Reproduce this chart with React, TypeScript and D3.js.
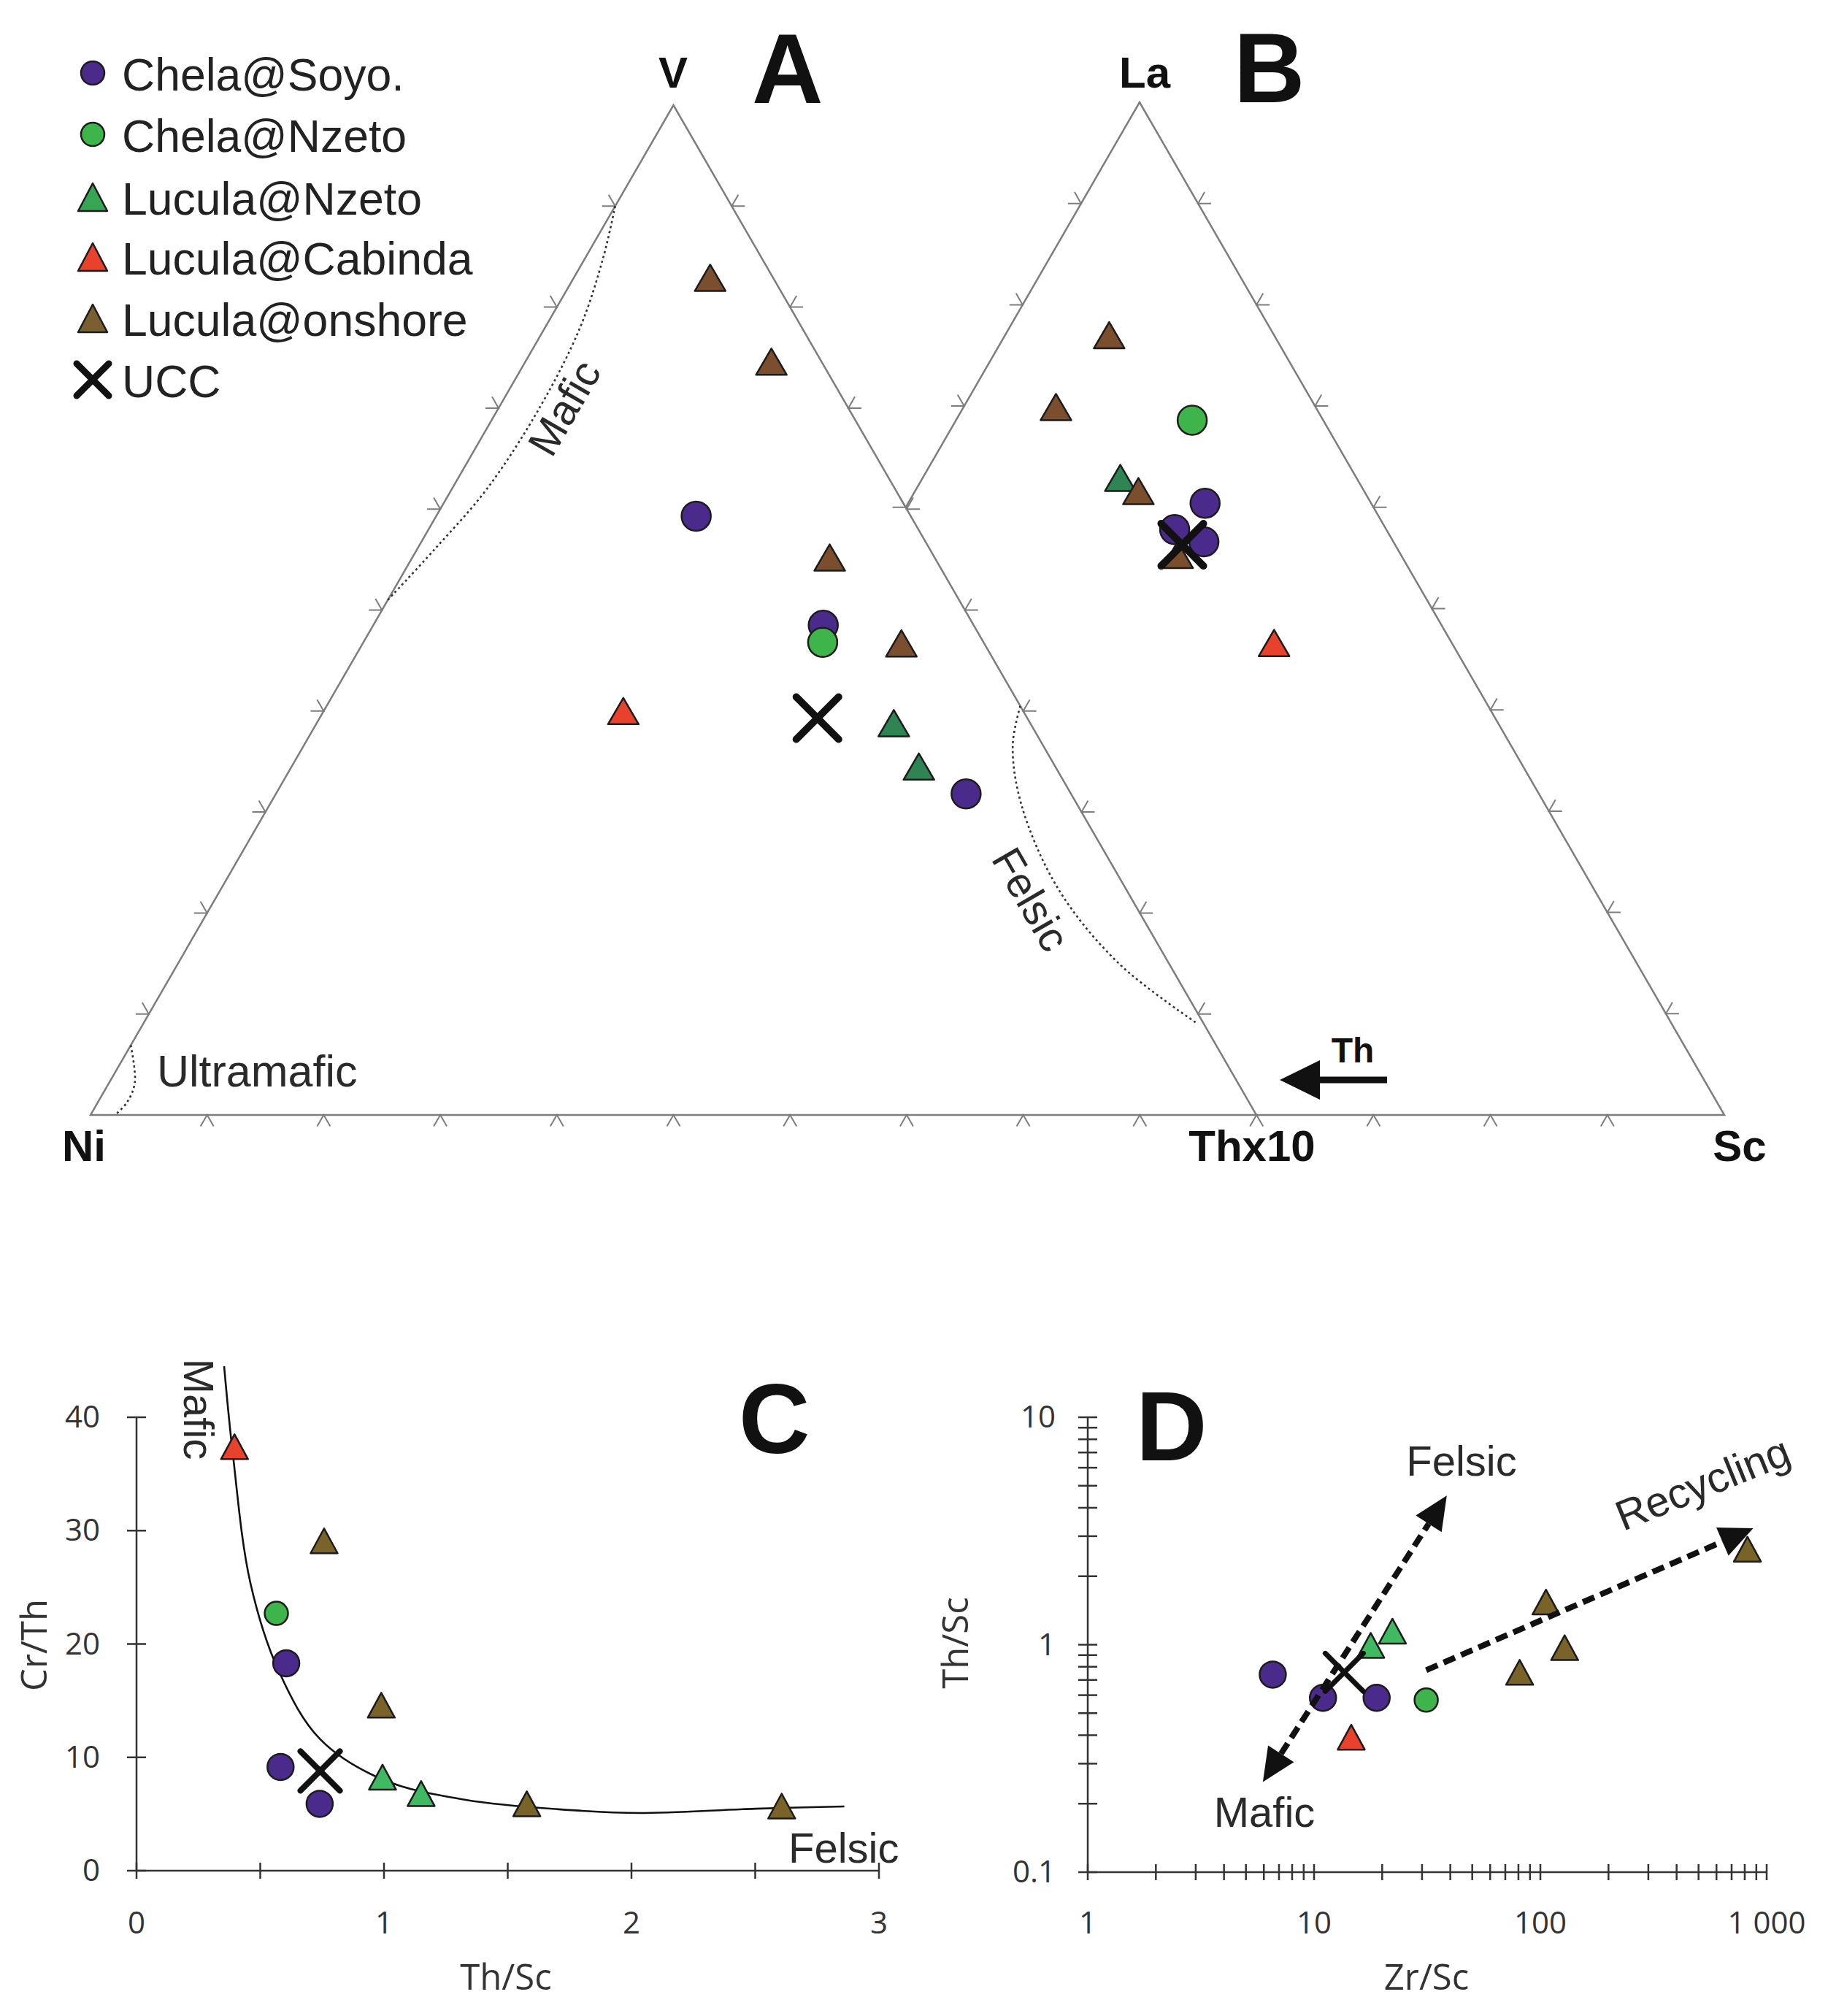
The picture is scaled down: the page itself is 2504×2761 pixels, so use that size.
import React from 'react';
import * as d3 from 'd3';

const W = 2504;
const H = 2761;

// ---------- Legend ----------
const legendNames = ['Chela@Soyo.', 'Chela@Nzeto', 'Lucula@Nzeto', 'Lucula@Cabinda', 'Lucula@onshore', 'UCC'];

// ---------- Panel A : V – Ni – Thx10 (%, [V, Ni, Thx10]) ----------
const aChelaSoyo = [[59.3, 18.4, 22.3], [48.5, 12.9, 38.6], [31.8, 9.0, 59.2]];
const aChelaNzeto = [[46.8, 13.8, 39.4]];
const aLuculaNzeto = [[38.8, 11.7, 49.5], [34.5, 11.7, 53.8]];
const aLuculaCabinda = [[40.0, 34.3, 25.7]];
const aLuculaOnshore = [[82.9, 5.4, 11.7], [74.6, 4.3, 21.1], [55.2, 9.0, 35.8], [46.7, 7.1, 46.2]];
const aUCC = [[39.3, 18.0, 42.7]];
const aMaficField = [[90, 10, 0], [85, 13.5, 1.5], [78, 19, 3], [70, 26.5, 3.5], [62, 35, 3], [56, 42.5, 1.5], [51, 49, 0]];
const aFelsicField = [[40.5, 0, 59.5], [36.6, 2.6, 60.8], [30.7, 4.8, 64.5], [22.4, 5.8, 71.8], [15.0, 4.3, 80.7], [9.0, 0.5, 90.5]];
const aUltramaficField = [[6.9, 93.1, 0], [3.2, 94.6, 2.2], [1.2, 96.3, 2.5], [0, 97.9, 2.1]];

// ---------- Panel B : La – Th – Sc (%, [La, Th, Sc]) ----------
const bChelaSoyo = [[60.4, 14.2, 25.4], [57.8, 18.1, 24.1], [56.6, 16.2, 27.2]];
const bChelaNzeto = [[68.6, 11.2, 20.2]];
const bLuculaNzeto = [[62.9, 20.2, 16.9]];
const bLuculaCabinda = [[46.6, 15.2, 38.2]];
const bLuculaOnshore = [[77.0, 14.1, 8.9], [69.9, 22.2, 7.9], [61.6, 19.3, 19.1], [55.3, 19.1, 25.6]];
const bUCC = [[56.3, 18.2, 25.5]];

// ---------- Panel C : Th/Sc vs Cr/Th ----------
const cChelaSoyo = [[0.605, 18.3], [0.582, 9.15], [0.74, 5.9]];
const cChelaNzeto = [[0.565, 22.7]];
const cLuculaNzeto = [[0.994, 8.25], [1.15, 6.8]];
const cLuculaCabinda = [[0.396, 37.4]];
const cLuculaOnshore = [[0.758, 29.1], [0.989, 14.6], [1.577, 5.9], [2.607, 5.7]];
const cUCC = [[0.742, 8.8]];
const cMixingCurve = [[0.354, 44.5], [0.389, 36.8], [0.46, 25.4], [0.577, 17.5], [0.742, 11.6], [0.994, 8.05], [1.33, 6.25], [1.8, 5.28], [2.035, 5.09], [2.5, 5.47], [2.86, 5.67]];
const cXTicks = [0, 1, 2, 3];
const cXMinor = [0.5, 1.5, 2.5];
const cYTicks = [0, 10, 20, 30, 40];

// ---------- Panel D : Zr/Sc vs Th/Sc ----------
const dChelaSoyo = [[6.57, 0.739], [10.95, 0.584], [18.9, 0.584]];
const dChelaNzeto = [[31.3, 0.571]];
const dLuculaNzeto = [[17.8, 0.993], [22.2, 1.147]];
const dLuculaCabinda = [[14.6, 0.392]];
const dLuculaOnshore = [[81, 0.756], [105.9, 1.54], [128, 0.97], [822, 2.63]];
const dUCC = [[13.6, 0.756]];
const dFelsicMaficArrow = [[5.94, 0.249], [38.6, 4.53]];
const dRecyclingArrow = [[31.3, 0.773], [872, 3.25]];
const dXTickLabels = [[1, '1'], [10, '10'], [100, '100'], [1000, '1 000']];
const dYTickLabels = [[0.1, '0.1'], [1, '1'], [10, '10']];

// ---------- styles ----------
const PURPLE = '#4a2b8b';
const GREEN_C = '#3db54b';
const GREEN_T_AB = '#2e8553';
const GREEN_T_CD = '#3fb962';
const GREEN_T_LEG = '#36a655';
const RED = '#e8412c';
const BROWN_AB = '#7b4f2e';
const BROWN_CD = '#7a6328';
const BROWN_LEG = '#7a6030';
const EDGE = '#7d7d7d';
const SANS = '"Liberation Sans", Arial, sans-serif';
const AXF = '"Open Sans", "Noto Sans", sans-serif';

type Pt = [number, number];

function triPath(x: number, y: number, w: number, h: number) {
  return `M${x},${y - h / 2}L${x + w / 2},${y + h / 2}L${x - w / 2},${y + h / 2}Z`;
}

function Marker({ kind, x, y, fill, r = 20, w = 42, h = 36, sw = 10, xs = 30 }: any) {
  if (kind === 'circle') return <circle cx={x} cy={y} r={r} fill={fill} stroke="#1c1c1c" strokeWidth={2.5} />;
  if (kind === 'tri') return <path d={triPath(x, y, w, h)} fill={fill} stroke="#1c1c1c" strokeWidth={2.5} strokeLinejoin="round" />;
  return (
    <g stroke="#111" strokeWidth={sw} strokeLinecap="round">
      <line x1={x - xs} y1={y - xs} x2={x + xs} y2={y + xs} />
      <line x1={x - xs} y1={y + xs} x2={x + xs} y2={y - xs} />
    </g>
  );
}

function makeTernary(left: number, right: number, base: number, top: number) {
  const sx = d3.scaleLinear().domain([0, 1]).range([left, right]);
  const sy = d3.scaleLinear().domain([0, 1]).range([base, top]);
  // t = top component %, r = right component %
  return (t: number, r: number): Pt => [sx(r / 100 + t / 200), sy(t / 100)];
}

function chevron(p: Pt, n: Pt, L = 18) {
  const rot = (v: Pt, a: number): Pt => [v[0] * Math.cos(a) - v[1] * Math.sin(a), v[0] * Math.sin(a) + v[1] * Math.cos(a)];
  const a = rot(n, Math.PI / 6);
  const b = rot(n, -Math.PI / 6);
  return `M${p[0] + a[0] * L},${p[1] + a[1] * L}L${p[0]},${p[1]}L${p[0] + b[0] * L},${p[1] + b[1] * L}`;
}

function edgeTicks(P: Pt, Q: Pt, C: Pt, ks: number[]) {
  const dx = Q[0] - P[0], dy = Q[1] - P[1];
  const len = Math.hypot(dx, dy);
  let n: Pt = [-dy / len, dx / len];
  const mid: Pt = [(P[0] + Q[0]) / 2, (P[1] + Q[1]) / 2];
  if ((mid[0] - C[0]) * n[0] + (mid[1] - C[1]) * n[1] < 0) n = [-n[0], -n[1]];
  return ks.map((k) => chevron([P[0] + dx * k / 10, P[1] + dy * k / 10], n)).join('');
}

function arrowHead(from: Pt, to: Pt, len: number, hw: number) {
  const dx = to[0] - from[0], dy = to[1] - from[1];
  const l = Math.hypot(dx, dy);
  const u: Pt = [dx / l, dy / l];
  const b: Pt = [to[0] - u[0] * len, to[1] - u[1] * len];
  const p: Pt = [-u[1], u[0]];
  return {
    path: `M${to[0]},${to[1]}L${b[0] + p[0] * hw},${b[1] + p[1] * hw}L${b[0] - p[0] * hw},${b[1] - p[1] * hw}Z`,
    base: b,
  };
}

export default function App() {
  // ---------- Ternary geometry ----------
  const A_BASE = 1527;
  const projA = makeTernary(124, 1721, A_BASE, 144);
  const projB = makeTernary(760, 2362, A_BASE, 140);
  const aV = projA(100, 0), aNi = projA(0, 0), aTh = projA(0, 100);
  const bLa = projB(100, 0), bTh = projB(0, 0), bSc = projB(0, 100);
  const aC: Pt = [(aV[0] + aNi[0] + aTh[0]) / 3, (aV[1] + aNi[1] + aTh[1]) / 3];
  const bC: Pt = [(bLa[0] + bTh[0] + bSc[0]) / 3, (bLa[1] + bTh[1] + bSc[1]) / 3];
  const junction = projB(60, 0);
  const ks = [1, 2, 3, 4, 5, 6, 7, 8, 9];

  const projAp = (d: number[]) => projA(d[0], d[2]);
  const projBp = (d: number[]) => projB(d[0], d[2]);
  const fieldLine = d3.line<number[]>().x((d) => projAp(d)[0]).y((d) => projAp(d)[1]).curve(d3.curveCatmullRom);

  // ---------- C scales ----------
  const xC = d3.scaleLinear().domain([0, 3]).range([187, 1204]);
  const yC = d3.scaleLinear().domain([0, 40]).range([2562, 1941]);
  const curveC = d3.line<number[]>().x((d) => xC(d[0])).y((d) => yC(d[1])).curve(d3.curveCatmullRom);

  // ---------- D scales ----------
  const xD = d3.scaleLog().domain([1, 1000]).range([1490, 2420]);
  const yD = d3.scaleLog().domain([0.1, 10]).range([2564, 1941]);
  const dXminor: number[] = [];
  [1, 10, 100].forEach((dec) => { for (let i = 1; i <= 9; i++) dXminor.push(dec * i); });
  dXminor.push(1000);
  const dYminor: number[] = [];
  [0.1, 1].forEach((dec) => { for (let i = 1; i <= 9; i++) dYminor.push(+(dec * i).toFixed(2)); });
  dYminor.push(10);

  const fmArrowPts: Pt[] = dFelsicMaficArrow.map((d) => [xD(d[0]), yD(d[1])] as Pt);
  const recPts: Pt[] = dRecyclingArrow.map((d) => [xD(d[0]), yD(d[1])] as Pt);
  const headF = arrowHead(fmArrowPts[0], fmArrowPts[1], 46, 21);
  const headM = arrowHead(fmArrowPts[1], fmArrowPts[0], 46, 21);
  const headR = arrowHead(recPts[0], recPts[1], 46, 21);

  const ternSeries = (proj: (d: number[]) => Pt, sets: any[], colors: any) => {
    const [soyo, nzeto, lNzeto, cab, onsh, ucc] = sets;
    return (
      <g>
        {soyo.map((d: number[], i: number) => { const p = proj(d); return <Marker key={'s' + i} kind="circle" x={p[0]} y={p[1]} fill={PURPLE} />; })}
        {nzeto.map((d: number[], i: number) => { const p = proj(d); return <Marker key={'n' + i} kind="circle" x={p[0]} y={p[1]} fill={GREEN_C} />; })}
        {lNzeto.map((d: number[], i: number) => { const p = proj(d); return <Marker key={'l' + i} kind="tri" x={p[0]} y={p[1]} fill={colors.gt} />; })}
        {cab.map((d: number[], i: number) => { const p = proj(d); return <Marker key={'c' + i} kind="tri" x={p[0]} y={p[1]} fill={RED} />; })}
        {onsh.map((d: number[], i: number) => { const p = proj(d); return <Marker key={'o' + i} kind="tri" x={p[0]} y={p[1]} fill={colors.br} />; })}
        {ucc.map((d: number[], i: number) => { const p = proj(d); return <Marker key={'u' + i} kind="x" x={p[0]} y={p[1]} sw={10} xs={29} />; })}
      </g>
    );
  };

  const xySeries = (sx: any, sy: any, sets: any[], xsw: number, xsz: number) => {
    const [soyo, nzeto, lNzeto, cab, onsh, ucc] = sets;
    const P = (d: number[]): Pt => [sx(d[0]), sy(d[1])];
    return (
      <g>
        {soyo.map((d: number[], i: number) => { const p = P(d); return <Marker key={'s' + i} kind="circle" x={p[0]} y={p[1]} r={18} fill={PURPLE} />; })}
        {nzeto.map((d: number[], i: number) => { const p = P(d); return <Marker key={'n' + i} kind="circle" x={p[0]} y={p[1]} r={16} fill={GREEN_C} />; })}
        {lNzeto.map((d: number[], i: number) => { const p = P(d); return <Marker key={'l' + i} kind="tri" x={p[0]} y={p[1]} w={37} h={34} fill={GREEN_T_CD} />; })}
        {cab.map((d: number[], i: number) => { const p = P(d); return <Marker key={'c' + i} kind="tri" x={p[0]} y={p[1]} w={37} h={34} fill={RED} />; })}
        {onsh.map((d: number[], i: number) => { const p = P(d); return <Marker key={'o' + i} kind="tri" x={p[0]} y={p[1]} w={37} h={34} fill={BROWN_CD} />; })}
        {ucc.map((d: number[], i: number) => { const p = P(d); return <Marker key={'u' + i} kind="x" x={p[0]} y={p[1]} sw={xsw} xs={xsz} />; })}
      </g>
    );
  };

  const legendRows = [100, 184, 270, 352, 436, 520];

  return (
    <svg width={W} height={H} viewBox={`0 0 ${W} ${H}`} style={{ position: 'absolute', left: 0, top: 0, background: '#fff' }}>
      <rect x={0} y={0} width={W} height={H} fill="#fff" />

      {/* ---------- Legend ---------- */}
      <g fontFamily={SANS} fontSize={62.5} fill="#222">
        <Marker kind="circle" x={127} y={legendRows[0]} r={16} fill={PURPLE} />
        <Marker kind="circle" x={127} y={legendRows[1]} r={16} fill={GREEN_C} />
        <Marker kind="tri" x={127} y={legendRows[2]} w={40} h={38} fill={GREEN_T_LEG} />
        <Marker kind="tri" x={127} y={legendRows[3]} w={40} h={38} fill={RED} />
        <Marker kind="tri" x={127} y={legendRows[4]} w={40} h={38} fill={BROWN_LEG} />
        <Marker kind="x" x={127} y={legendRows[5]} sw={9} xs={22} />
        {legendNames.map((n, i) => (
          <text key={n} x={167} y={legendRows[i] + 24}>{n}</text>
        ))}
      </g>

      {/* ---------- Triangle A ---------- */}
      <path d={`M${aNi[0]},${aNi[1]}L${aV[0]},${aV[1]}L${aTh[0]},${aTh[1]}Z`} fill="none" stroke={EDGE} strokeWidth={2.5} />
      <path d={edgeTicks(aNi, aTh, aC, ks) + edgeTicks(aV, aNi, aC, ks) + edgeTicks(aV, aTh, aC, ks)} fill="none" stroke={EDGE} strokeWidth={2} />

      {/* ---------- Triangle B ---------- */}
      <path d={`M${aTh[0]},${aTh[1]}L${bSc[0]},${bSc[1]}L${bLa[0]},${bLa[1]}L${junction[0]},${junction[1]}`} fill="none" stroke={EDGE} strokeWidth={2.5} />
      <path d={edgeTicks(bTh, bSc, bC, [6, 7, 8, 9]) + edgeTicks(bLa, bTh, bC, [1, 2, 3, 4]) + edgeTicks(bLa, bSc, bC, ks)} fill="none" stroke={EDGE} strokeWidth={2} />

      {/* fields */}
      <g fill="none" stroke="#333" strokeWidth={2.6} strokeDasharray="3 4">
        <path d={fieldLine(aMaficField) || ''} />
        <path d={fieldLine(aFelsicField) || ''} />
        <path d={fieldLine(aUltramaficField) || ''} />
      </g>
      <g fontFamily={SANS} fontSize={58} fill="#2a2a2a">
        <text transform="translate(777,561) rotate(-60)" textAnchor="middle" dominantBaseline="middle">Mafic</text>
        <text transform="translate(1408,1234) rotate(60)" textAnchor="middle" dominantBaseline="middle">Felsic</text>
        <text x={215} y={1488} fontSize={61}>Ultramafic</text>
      </g>

      {/* vertex labels */}
      <g fontFamily={SANS} fontWeight="bold" fontSize={60} fill="#111" textAnchor="middle">
        <text x={922} y={120}>V</text>
        <text x={1568} y={120}>La</text>
        <text x={115} y={1590}>Ni</text>
        <text x={1715} y={1590}>Thx10</text>
        <text x={2383} y={1590}>Sc</text>
        <text x={1853} y={1455} fontSize={48}>Th</text>
      </g>
      <g fontFamily={SANS} fontWeight="bold" fontSize={135} fill="#111">
        <text x={1030} y={141}>A</text>
        <text x={1690} y={140}>B</text>
      </g>
      {/* Th direction arrow */}
      <line x1={1900} y1={1479} x2={1800} y2={1479} stroke="#111" strokeWidth={9} />
      <path d="M1753,1479L1808,1452L1808,1506Z" fill="#111" />

      {ternSeries(projAp, [aChelaSoyo, aChelaNzeto, aLuculaNzeto, aLuculaCabinda, aLuculaOnshore, aUCC], { gt: GREEN_T_AB, br: BROWN_AB })}
      {ternSeries(projBp, [bChelaSoyo, bChelaNzeto, bLuculaNzeto, bLuculaCabinda, bLuculaOnshore, bUCC], { gt: GREEN_T_AB, br: BROWN_AB })}

      {/* ---------- Panel C ---------- */}
      <g stroke="#333" strokeWidth={2.5}>
        <line x1={xC(0)} y1={yC(0)} x2={xC(0)} y2={yC(40)} />
        <line x1={xC(0)} y1={yC(0)} x2={xC(3)} y2={yC(0)} />
        {cXTicks.concat(cXMinor).map((t) => <line key={'cx' + t} x1={xC(t)} x2={xC(t)} y1={yC(0) - 11} y2={yC(0) + 11} />)}
        {cYTicks.map((t) => <line key={'cy' + t} x1={xC(0) - 13} x2={xC(0) + 13} y1={yC(t)} y2={yC(t)} />)}
      </g>
      <g fontFamily={AXF} fontSize={42} fill="#333">
        {cXTicks.map((t) => <text key={'cxl' + t} x={xC(t)} y={2648} textAnchor="middle">{t}</text>)}
        {cYTicks.map((t) => <text key={'cyl' + t} x={137} y={yC(t) + 14} textAnchor="end">{t}</text>)}
        <text x={693} y={2725} textAnchor="middle" fontSize={49}>Th/Sc</text>
        <text transform="translate(64,2253) rotate(-90)" textAnchor="middle" fontSize={49}>Cr/Th</text>
      </g>
      <path d={curveC(cMixingCurve) || ''} fill="none" stroke="#111" strokeWidth={2.6} />
      <g fontFamily={SANS} fontSize={58} fill="#2a2a2a">
        <text transform="translate(267,1930) rotate(90)" textAnchor="middle" dominantBaseline="middle">Mafic</text>
        <text x={1080} y={2551}>Felsic</text>
      </g>
      <text x={1012} y={1990} fontFamily={SANS} fontWeight="bold" fontSize={135} fill="#111">C</text>
      {xySeries(xC, yC, [cChelaSoyo, cChelaNzeto, cLuculaNzeto, cLuculaCabinda, cLuculaOnshore, cUCC], 8, 27)}

      {/* ---------- Panel D ---------- */}
      <g stroke="#333" strokeWidth={2.5}>
        <line x1={xD(1)} y1={yD(0.1)} x2={xD(1)} y2={yD(10)} />
        <line x1={xD(1)} y1={yD(0.1)} x2={xD(1000)} y2={yD(0.1)} />
        {dXminor.map((t) => <line key={'dx' + t} x1={xD(t)} x2={xD(t)} y1={yD(0.1) - 11} y2={yD(0.1) + 11} />)}
        {dYminor.map((t) => <line key={'dy' + t} x1={xD(1) - 13} x2={xD(1) + 13} y1={yD(t)} y2={yD(t)} />)}
      </g>
      <g fontFamily={AXF} fontSize={42} fill="#333">
        {dXTickLabels.map(([v, l]) => <text key={'dxl' + v} x={xD(v as number)} y={2648} textAnchor="middle">{l}</text>)}
        {dYTickLabels.map(([v, l]) => <text key={'dyl' + v} x={1446} y={yD(v as number) + 14} textAnchor="end">{l}</text>)}
        <text x={1954} y={2725} textAnchor="middle" fontSize={49}>Zr/Sc</text>
        <text transform="translate(1326,2250) rotate(-90)" textAnchor="middle" fontSize={49}>Th/Sc</text>
      </g>
      <text x={1556} y={2000} fontFamily={SANS} fontWeight="bold" fontSize={135} fill="#111">D</text>
      {xySeries(xD, yD, [dChelaSoyo, dChelaNzeto, dLuculaNzeto, dLuculaCabinda, dLuculaOnshore, dUCC], 7, 26)}

      <g stroke="#111" strokeWidth={8} strokeDasharray="17 9" fill="none">
        <line x1={headM.base[0]} y1={headM.base[1]} x2={headF.base[0]} y2={headF.base[1]} />
        <line x1={recPts[0][0]} y1={recPts[0][1]} x2={headR.base[0]} y2={headR.base[1]} />
      </g>
      <g fill="#111">
        <path d={headF.path} />
        <path d={headM.path} />
        <path d={headR.path} />
      </g>
      <g fontFamily={SANS} fontSize={58} fill="#2a2a2a">
        <text x={2002} y={2021} textAnchor="middle">Felsic</text>
        <text x={1732} y={2502} textAnchor="middle">Mafic</text>
        <text transform="translate(2334,2036) rotate(-22)" textAnchor="middle" dominantBaseline="middle">Recycling</text>
      </g>
    </svg>
  );
}
